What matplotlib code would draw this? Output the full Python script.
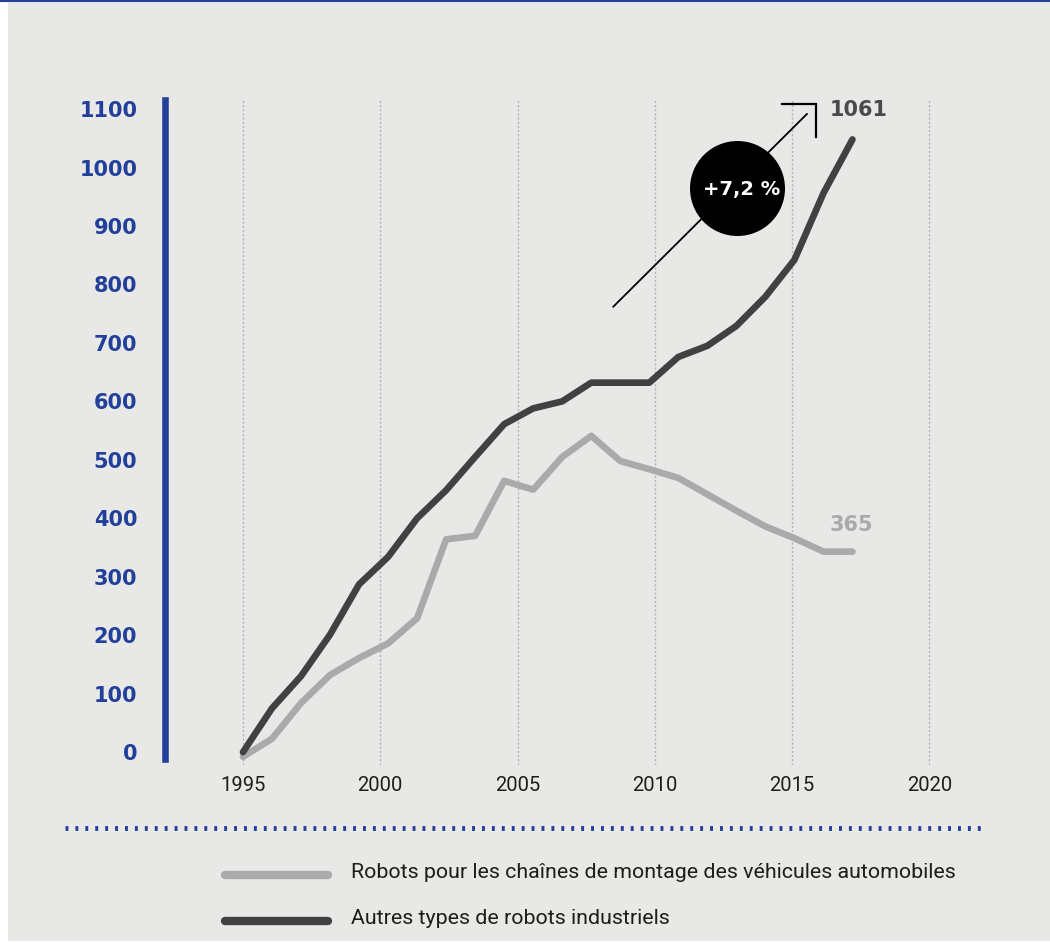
import numpy as np
import matplotlib.pyplot as plt
from matplotlib.lines import Line2D
from matplotlib.patches import Rectangle

# data (index, 1995 = 0)
years = list(range(1995, 2017))
auto_chains = [-8, 23, 84, 132, 161, 186, 229, 364, 370, 464, 449, 505,
               541, 498, 484, 469, 441, 413, 386, 366, 343, 343]
other_robots = [0, 75, 130, 201, 287, 334, 400, 448, 505, 561, 588, 600,
                632, 632, 632, 676, 695, 729, 779, 842, 956, 1048]
yticks = list(range(0, 1200, 100))
xticks = [1995, 2000, 2005, 2010, 2015, 2020]
legend_labels = ['Robots pour les chaînes de montage des véhicules automobiles',
                 'Autres types de robots industriels']
growth_label = '+7,2 %'
end_labels = ['365', '1061']

BG = '#e8e8e6'
BLUE = '#22409a'
DARK = '#414143'
LIGHT = '#a9aaac'

W, H = 1050, 943
fig = plt.figure(figsize=(W / 100, H / 100), dpi=100, facecolor='white')
fig.add_artist(Rectangle((8 / W, 2 / H), 1, 1, transform=fig.transFigure,
                         facecolor=BG, edgecolor='none', zorder=-10))
# thin blue rule on top
fig.add_artist(Line2D([0, 1], [1 - 1 / H, 1 - 1 / H], transform=fig.transFigure,
                      color=BLUE, lw=1.5))

ax = fig.add_axes([165 / W, 1 - 765 / H, 825 / W, 665 / H])
ax.set_facecolor('none')
ax.set_xlim(1992.16, 2022.21)
ax.set_ylim(-22, 1115.5)

# the points are spread a bit wider than one year apart on the original axis
x_pos = np.linspace(1995, 2017.2, len(years))

ax.plot(x_pos, auto_chains, color=LIGHT, lw=4.8, solid_capstyle='round',
        solid_joinstyle='round', zorder=3)
ax.plot(x_pos, other_robots, color=DARK, lw=4.8, solid_capstyle='round',
        solid_joinstyle='round', zorder=4)

for s in ['top', 'right', 'bottom']:
    ax.spines[s].set_visible(False)
ax.spines['left'].set_color(BLUE)
ax.spines['left'].set_linewidth(4.75)
ax.spines['left'].set_bounds(-12, 1115.5)

ax.set_xticks(xticks)
ax.set_yticks(yticks)
ax.grid(axis='x', ls=(0, (1.5, 1.5)), color='#b2b2b2', lw=1)
ax.tick_params(length=0)
ax.tick_params(axis='y', pad=20)
ax.tick_params(axis='x', pad=8)
for lab in ax.get_yticklabels():
    lab.set_fontweight('bold')
    lab.set_fontsize(15)
    lab.set_color(BLUE)
for lab in ax.get_xticklabels():
    lab.set_family('Roboto')
    lab.set_fontsize(14.5)
    lab.set_color('#1d1d1b')

# growth annotation
ax.plot([2008.49, 2015.54], [762, 1091.5], color='black', lw=1.3, zorder=5)
ax.plot([2014.62, 2015.86, 2015.86], [1108.6, 1108.6, 1051.7], color='black',
        lw=1.6, solid_joinstyle='miter', clip_on=False, zorder=5)
ax.plot(2013.0, 965.5, 'o', ms=68.4, color='black', mec='none', zorder=6)
ax.text(2013.15, 962, growth_label, color='white', fontsize=14,
        fontweight='bold', ha='center', va='center', zorder=7)

ax.text(2017.15, 388, end_labels[0], color=LIGHT, fontsize=15,
        fontweight='bold', ha='center', va='center')
ax.text(2017.44, 1098, end_labels[1], color='#4a4a4a', fontsize=15,
        fontweight='bold', ha='center', va='center', clip_on=False)

# dotted separator
fig.add_artist(Line2D([65 / W, 985 / W], [1 - 828 / H, 1 - 828 / H],
                      transform=fig.transFigure, color=BLUE, lw=3.5,
                      ls=(0, (0.6, 1.44)), dash_capstyle='butt'))

# legend
for i, (lab, col) in enumerate(zip(legend_labels, [LIGHT, DARK])):
    yy = 1 - (875 + 46 * i) / H
    fig.add_artist(Line2D([225 / W, 328 / W], [yy, yy], transform=fig.transFigure,
                          color=col, lw=6, solid_capstyle='round'))
    fig.text(351 / W, yy + 2 / H, lab, family='Roboto', fontsize=15.4,
             color='#1d1d1b', ha='left', va='center')

fig.savefig('out.png', dpi=100, facecolor=fig.get_facecolor())
